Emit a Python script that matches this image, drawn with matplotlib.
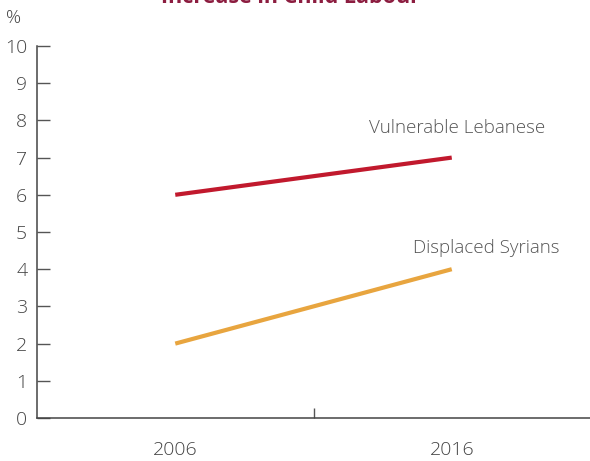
import matplotlib
matplotlib.use("Agg")
import matplotlib.pyplot as plt

years = ["2006", "2016"]
lebanese = [6, 7]
syrians = [2, 4]
yticks = list(range(0, 11))
title = "Increase in Child Labour"

plt.rcParams['font.family'] = ['Open Sans', 'DejaVu Sans']
LIGHT = "light"

fig = plt.figure(figsize=(5.9, 4.61), dpi=100)
ax = fig.add_axes([37/590, 1-418/461, 1-37/590, (418-46)/461])

x = list(range(len(years)))
ax.plot(x, lebanese, color="#C1192D", lw=3.0, solid_capstyle="butt")
ax.plot(x, syrians, color="#E8A53F", lw=3.0, solid_capstyle="butt")

ax.set_xlim(-0.5, 1.5)
ax.set_ylim(0, 10)
ax.set_yticks(yticks)
ax.set_yticklabels([str(t) for t in yticks], fontweight=LIGHT)
ax.tick_params(axis="y", direction="in", length=9.5, width=1, color="#555555",
               labelsize=14, labelcolor="#444444", pad=7)
ax.set_xticks([0.5])
ax.set_xticklabels([""])
ax.tick_params(axis="x", direction="in", length=7, width=1, color="#555555")
for i, yr in enumerate(years):
    ax.text(i, -0.85, yr, ha="center", va="center", fontsize=14,
            fontweight=LIGHT, color="#444444")

for s in ["top", "right"]:
    ax.spines[s].set_visible(False)
for s in ["left", "bottom"]:
    ax.spines[s].set_color("#444444")
    ax.spines[s].set_linewidth(1.1)

ax.annotate("Vulnerable Lebanese", xy=(457/590, 1-128/461), xycoords="figure fraction",
            ha="center", va="center", fontsize=13.5, fontweight=LIGHT, color="#555555")
ax.annotate("Displaced Syrians", xy=(486/590, 1-248/461), xycoords="figure fraction",
            ha="center", va="center", fontsize=13.5, fontweight=LIGHT, color="#555555")

fig.text(290/590, 1-3/461, title, ha="center", va="baseline", fontsize=15.5,
         fontweight="bold", color="#8C1D40")
fig.text(14/590, 1-18/461, "%", ha="center", va="center", fontsize=13.5,
         fontweight=LIGHT, color="#444444")

fig.savefig("out.png", dpi=100)
